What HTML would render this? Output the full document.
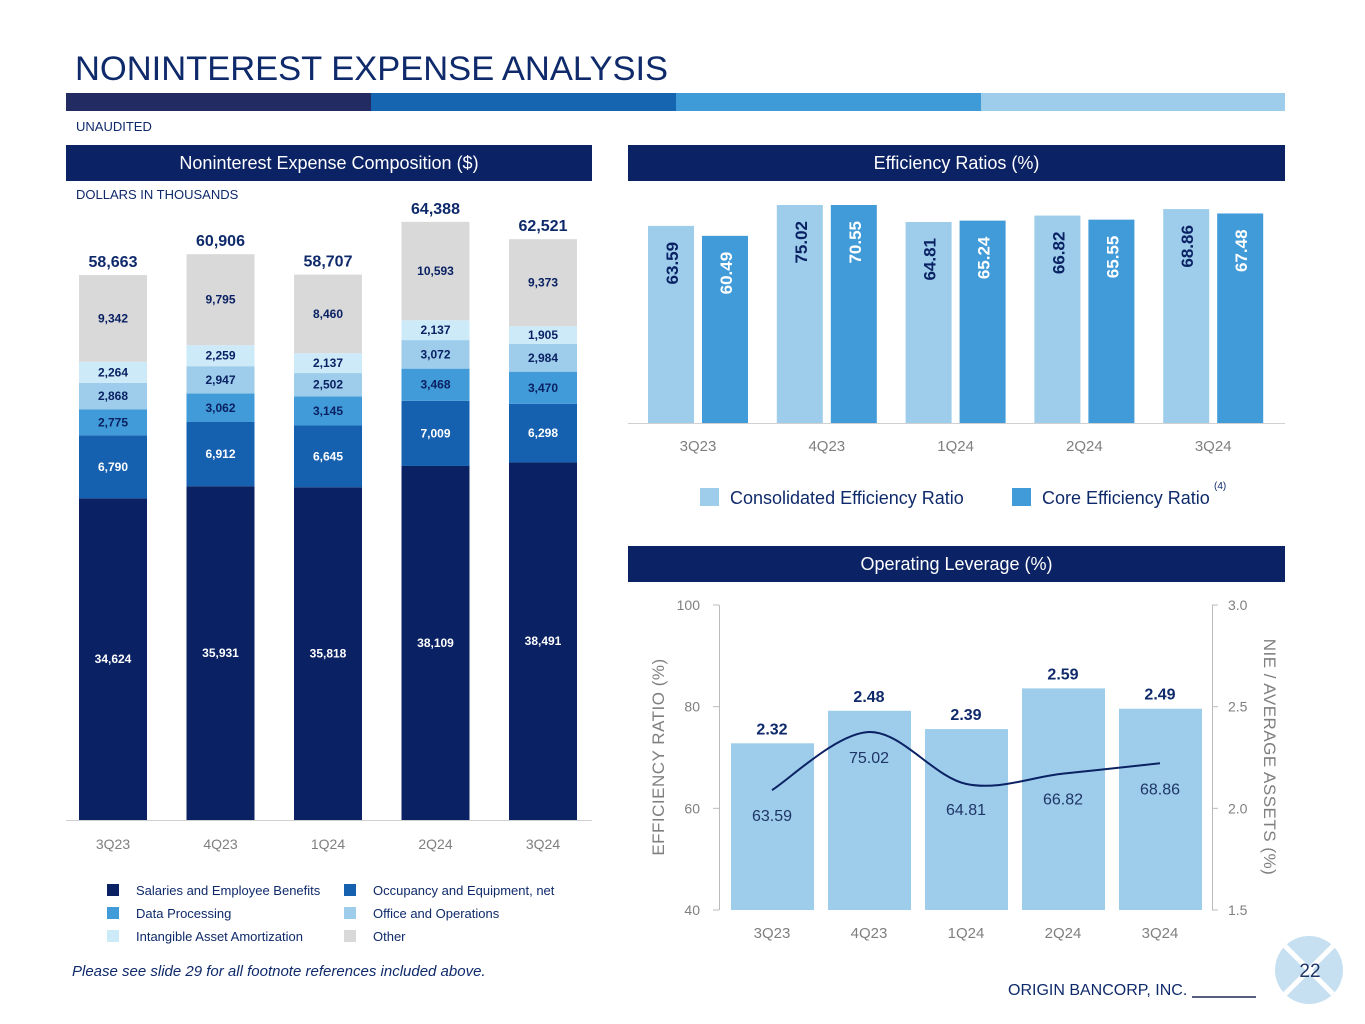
<!DOCTYPE html>
<html><head><meta charset="utf-8"><style>
body{margin:0;background:#fff;font-family:"Liberation Sans",Arial,sans-serif;}
#page{position:relative;width:1365px;height:1024px;overflow:hidden;}
.abs{position:absolute;}
.hdr{position:absolute;background:#0b2265;color:#fff;font-size:18px;text-align:center;line-height:36px;height:36px;}
</style></head><body><div id="page">
<div class="abs" style="left:75px;top:50px;font-size:34.5px;color:#0f2a6b;">NONINTEREST EXPENSE ANALYSIS</div>
<div class="abs" style="left:66px;top:93px;width:305px;height:18px;background:#222c63"></div>
<div class="abs" style="left:371px;top:93px;width:305px;height:18px;background:#1565b0"></div>
<div class="abs" style="left:676px;top:93px;width:305px;height:18px;background:#3f9ad8"></div>
<div class="abs" style="left:981px;top:93px;width:304px;height:18px;background:#9dcdea"></div>
<div class="abs" style="left:76px;top:119px;font-size:13px;color:#0f2a6b">UNAUDITED</div>
<div class="hdr" style="left:66px;top:145px;width:526px">Noninterest Expense Composition ($)</div>
<div class="hdr" style="left:628px;top:145px;width:657px">Efficiency Ratios (%)</div>
<div class="hdr" style="left:628px;top:546px;width:657px">Operating Leverage (%)</div>
<div class="abs" style="left:76px;top:187px;font-size:13px;color:#0f2a6b">DOLLARS IN THOUSANDS</div>
<svg id="c1" class="abs" style="left:0;top:0" width="1365" height="1024"></svg>
<div class="abs" style="left:72px;top:963px;font-size:15px;font-style:italic;color:#0f2a6b">Please see slide 29 for all footnote references included above.</div>
<div class="abs" style="left:1008px;top:982px;font-size:16px;color:#0f2a6b">ORIGIN BANCORP, INC. <span style="display:inline-block;width:64px;border-bottom:2px solid #555e7c;vertical-align:-3px"></span></div>
<svg class="abs" style="left:1273px;top:934px" width="72" height="72"><circle cx="36" cy="36" r="34" fill="#c6dff1"/><path d="M12 12L60 60M60 12L12 60" stroke="#fff" stroke-width="5"/><text x="37" y="43" font-size="19" fill="#1f3566" text-anchor="middle" font-family="Liberation Sans">22</text></svg>
<script>
const NS='http://www.w3.org/2000/svg';
const svg=document.getElementById('c1');
function mk(tag,attrs,txt){const e=document.createElementNS(NS,tag);for(const k in attrs)e.setAttribute(k,attrs[k]);if(txt!==undefined)e.textContent=txt;svg.appendChild(e);return e;}
// ---- composition data
const quarters=['3Q23','4Q23','1Q24','2Q24','3Q24'];
const salaries=[34624,35931,35818,38109,38491];
const occupancy=[6790,6912,6645,7009,6298];
const dataProc=[2775,3062,3145,3468,3470];
const office=[2868,2947,2502,3072,2984];
const intangible=[2264,2259,2137,2137,1905];
const other=[9342,9795,8460,10593,9373];
const totals=['58,663','60,906','58,707','64,388','62,521'];
const series=[salaries,occupancy,dataProc,office,intangible,other];
const sNames=['salaries','occupancy','data-processing','office-operations','intangible-amortization','other'];
const sColors=['#0a2163','#1660b0','#419bd8','#9dcdea','#cdeaf9','#d9d9d9'];
const sText=['#fff','#fff','#0a2163','#0a2163','#0a2163','#0a2163'];
const cx=i=>113+i*107.5;
const cy=v=>820-v*0.00929;
quarters.forEach((q,i)=>{
  let acc=0;
  series.forEach((s,j)=>{
    const y0=cy(acc),y1=cy(acc+s[i]);
    const r=mk('rect',{x:cx(i)-34,y:y1,width:68,height:y0-y1,fill:sColors[j]});
    
    
    const t=mk('text',{x:cx(i),y:(y0+y1)/2+4,'font-size':12,'font-weight':'bold',fill:sText[j],'text-anchor':'middle'},s[i].toLocaleString('en-US'));
    
    
    acc+=s[i];
  });
  const tt=mk('text',{x:cx(i),y:cy(acc)-8,'font-size':16,'font-weight':'bold',fill:'#0f2a6b','text-anchor':'middle'},totals[i]);
  
  
  const xl=mk('text',{x:cx(i),y:849,'font-size':14,fill:'#7f7f7f','text-anchor':'middle'},q);
  
  
});
const ax=mk('line',{x1:66,x2:592,y1:820.5,y2:820.5,stroke:'#d0d0d0'});


const legNames=['Salaries and Employee Benefits','Occupancy and Equipment, net','Data Processing','Office and Operations','Intangible Asset Amortization','Other'];
legNames.forEach((n,j)=>{
  const lx=107+(j%2)*237, ly=884+Math.floor(j/2)*23;
  const r=mk('rect',{x:lx,y:ly,width:12,height:12,fill:sColors[j]});
  
  
  const t=mk('text',{x:lx+29,y:ly+11,'font-size':13,fill:'#0f2a6b'},n);
  
  
});
// ---- efficiency ratios
const consolidated=[63.59,75.02,64.81,66.82,68.86];
const core=[60.49,70.55,65.24,65.55,67.48];
const ey=v=>Math.max(205,423-(v-2)*3.2);
const ex=i=>698+i*128.8;
quarters.forEach((q,i)=>{
  [[consolidated,'#9dcdeb','#0a2163',-50,'consolidated'],[core,'#419bd8','#fff',4,'core']].forEach(([arr,col,tc,off,nm])=>{
    const y=ey(arr[i]);
    const r=mk('rect',{x:ex(i)+off,y:y,width:46,height:423-y,fill:col});
    
    
    const tx=ex(i)+off+23+7, ty=y+16;
    const t=mk('text',{x:tx,y:ty,'font-size':17,'font-weight':'bold',fill:tc,'text-anchor':'end',transform:`rotate(-90 ${tx} ${ty})`},arr[i].toFixed(2));
    
    
  });
  const xl=mk('text',{x:ex(i),y:451,'font-size':15,fill:'#7f7f7f','text-anchor':'middle'},q);
  
  
});
const ax2=mk('line',{x1:628,x2:1285,y1:423.5,y2:423.5,stroke:'#d0d0d0'});


[[700,'#9dcdeb','Consolidated Efficiency Ratio','consolidated'],[1012,'#419bd8','Core Efficiency Ratio','core']].forEach(([lx,c,n,nm])=>{
  const r=mk('rect',{x:lx,y:488,width:19,height:18,fill:c});
  
  
  const t=mk('text',{x:lx+30,y:504,'font-size':18,fill:'#0f2a6b'},n);
  
  
});
const fn=mk('text',{x:1214,y:489,'font-size':10,fill:'#0f2a6b'},'(4)');


// ---- operating leverage
const nie=[2.32,2.48,2.39,2.59,2.49];
const effRatio=[63.59,75.02,64.81,66.82,68.86];
const leftTicks=[40,60,80,100];
const rightTicks=['1.5','2.0','2.5','3.0'];
const ly=v=>910-(v-40)*5.083;
const ry=v=>910-(v-1.5)*203.3;
const ox=i=>772+i*97;
leftTicks.forEach(v=>{
  const t=mk('text',{x:700,y:ly(v)+5,'font-size':14,fill:'#7f7f7f','text-anchor':'end'},v);
  
  
  const l=mk('line',{x1:713,x2:719,y1:ly(v),y2:ly(v),stroke:'#bbb'});
  
  
});
rightTicks.forEach(v=>{
  const y=ry(parseFloat(v));
  const t=mk('text',{x:1228,y:y+5,'font-size':14,fill:'#7f7f7f'},v);
  
  
  const l=mk('line',{x1:1212,x2:1218,y1:y,y2:y,stroke:'#bbb'});
  
  
});
[[719.5,'left-axis'],[1212.5,'right-axis']].forEach(([x,n])=>{
  const l=mk('line',{x1:x,x2:x,y1:605,y2:910,stroke:'#bbb'});
  
  
});
quarters.forEach((q,i)=>{
  const y=ry(nie[i]);
  const r=mk('rect',{x:ox(i)-41,y:y,width:83,height:910-y,fill:'#9dcdeb'});
  
  
  const t=mk('text',{x:ox(i),y:y-9,'font-size':16,'font-weight':'bold',fill:'#0f2a6b','text-anchor':'middle'},nie[i].toFixed(2));
  
  
  const e=mk('text',{x:ox(i),y:ly(effRatio[i])+31,'font-size':16,fill:'#1f3566','text-anchor':'middle'},effRatio[i].toFixed(2));
  
  
  const xl=mk('text',{x:ox(i),y:938,'font-size':15,fill:'#7f7f7f','text-anchor':'middle'},q);
  
  
});
let d='';
const pts=effRatio.map((v,i)=>[ox(i),ly(v)]);
pts.forEach((p,i)=>{
  if(i===0){d+=`M${p[0]},${p[1]}`;return;}
  const p0=pts[i-2]||pts[i-1],p1=pts[i-1],p3=pts[i+1]||p;
  const c1=[p1[0]+(p[0]-p0[0])/6,p1[1]+(p[1]-p0[1])/6],c2=[p[0]-(p3[0]-p1[0])/6,p[1]-(p3[1]-p1[1])/6];
  d+=` C${c1[0]},${c1[1]} ${c2[0]},${c2[1]} ${p[0]},${p[1]}`;
});
const line=mk('path',{d:d,fill:'none',stroke:'#0a2163','stroke-width':2});


const yl=mk('text',{x:664,y:757,'font-size':17,fill:'#7f7f7f','text-anchor':'middle','letter-spacing':'0.5',transform:'rotate(-90 664 757)'},'EFFICIENCY RATIO (%)');


const yr=mk('text',{x:1264,y:757,'font-size':17,fill:'#7f7f7f','text-anchor':'middle','letter-spacing':'0.5',transform:'rotate(90 1264 757)'},'NIE / AVERAGE ASSETS (%)');


</script>
</div></body></html>
